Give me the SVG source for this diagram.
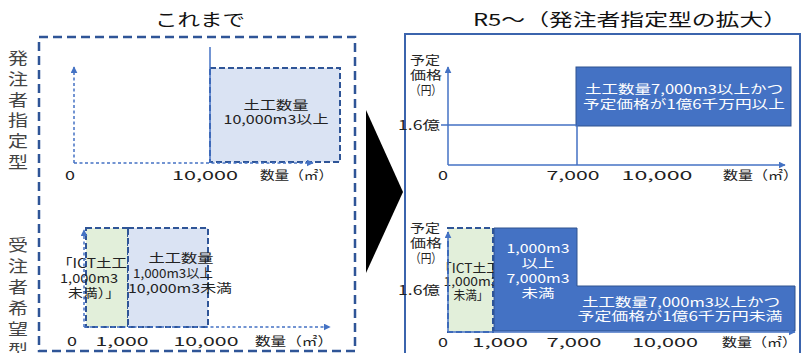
<svg xmlns="http://www.w3.org/2000/svg" width="802" height="353" viewBox="0 0 802 353">
<defs>
<marker id="ah" viewBox="0 0 10 10" refX="9" refY="5" markerWidth="7" markerHeight="7" markerUnits="userSpaceOnUse" orient="auto"><path d="M0,0 L10,5 L0,10 z" fill="#4472c4"/></marker>
</defs>
<style>
text { font-family: "Noto Sans CJK JP", "Noto Sans", sans-serif; }
.t { font-size: 12.5px; fill: #222; }
.w { font-size: 12.5px; fill: #fff; }
.m { text-anchor: middle; }
.e { text-anchor: end; }
.ttl { font-size: 17px; fill: #111; text-anchor: middle; }
.v { font-size: 16px; fill: #444; text-anchor: middle; }
.panelL { fill: none; stroke: #2f5597; stroke-width: 2.5; stroke-dasharray: 9 5; }
.panelR { fill: none; stroke: #3b64ad; stroke-width: 2; }
.box { stroke: #2f5597; stroke-width: 2; stroke-dasharray: 6 3; }
.lb { fill: #dae3f3; }
.lg { fill: #e2efda; }
.db { fill: #4472c4; stroke: #2f528f; stroke-width: 1; }
.ax { fill: none; stroke: #4472c4; stroke-width: 1.5; }
.axd { fill: none; stroke: #4472c4; stroke-width: 1.5; stroke-dasharray: 3 2.5; }
</style>
<rect width="802" height="353" fill="#fff"/>

<g id="title-left"><text class="ttl" x="200" y="26" textLength="90" lengthAdjust="spacingAndGlyphs">これまで</text></g>
<g id="title-right"><text class="ttl" x="630" y="26" textLength="314" lengthAdjust="spacingAndGlyphs">R5～（発注者指定型の拡大）</text></g>

<g id="label-hacchu">
<text class="v" x="18" y="64" textLength="20" lengthAdjust="spacingAndGlyphs">発</text>
<text class="v" x="18" y="85" textLength="20" lengthAdjust="spacingAndGlyphs">注</text>
<text class="v" x="18" y="106" textLength="20" lengthAdjust="spacingAndGlyphs">者</text>
<text class="v" x="18" y="126" textLength="20" lengthAdjust="spacingAndGlyphs">指</text>
<text class="v" x="18" y="147" textLength="20" lengthAdjust="spacingAndGlyphs">定</text>
<text class="v" x="18" y="168" textLength="20" lengthAdjust="spacingAndGlyphs">型</text>
</g>
<g id="label-juchu">
<text class="v" x="18" y="251" textLength="20" lengthAdjust="spacingAndGlyphs">受</text>
<text class="v" x="18" y="272" textLength="20" lengthAdjust="spacingAndGlyphs">注</text>
<text class="v" x="18" y="293" textLength="20" lengthAdjust="spacingAndGlyphs">者</text>
<text class="v" x="18" y="314" textLength="20" lengthAdjust="spacingAndGlyphs">希</text>
<text class="v" x="18" y="335" textLength="20" lengthAdjust="spacingAndGlyphs">望</text>
<text class="v" x="18" y="356" textLength="20" lengthAdjust="spacingAndGlyphs">型</text>
</g>

<g id="panel-left"><rect class="panelL" x="39" y="37" width="316" height="314"/></g>
<g id="panel-right"><rect class="panelR" x="405" y="34" width="395" height="330"/></g>

<g id="big-arrow"><polygon points="366,110 403,192 366,273" fill="#000"/></g>

<!-- upper-left chart -->
<g id="ul-box">
<rect class="lb box" x="210" y="68" width="130" height="94"/>
<text class="t m" x="276" y="110" textLength="65" lengthAdjust="spacingAndGlyphs">土工数量</text>
<text class="t m" x="276" y="124" textLength="105" lengthAdjust="spacingAndGlyphs">10,000m3以上</text>
</g>
<g id="ul-labels">
<text class="t m" x="70" y="180" textLength="10" lengthAdjust="spacingAndGlyphs">0</text>
<text class="t m" x="205" y="180" textLength="66" lengthAdjust="spacingAndGlyphs">10,000</text>
<text class="t" x="260" y="180" textLength="73" lengthAdjust="spacingAndGlyphs">数量（㎡）</text>
</g>

<!-- lower-left chart -->
<g id="ll-ict">
<rect class="lg box" x="86" y="228" width="42" height="99"/>
<text class="t m" x="92" y="268" textLength="70" lengthAdjust="spacingAndGlyphs">「ICT土工</text>
<text class="t m" x="89" y="283" textLength="58" lengthAdjust="spacingAndGlyphs">1,000m3</text>
<text class="t m" x="94" y="298" textLength="52" lengthAdjust="spacingAndGlyphs">未満）」</text>
</g>
<g id="ll-mid">
<rect class="lb box" x="128" y="228" width="80" height="99"/>
<text class="t m" x="181" y="263" textLength="65" lengthAdjust="spacingAndGlyphs">土工数量</text>
<text class="t m" x="173" y="278" textLength="80" lengthAdjust="spacingAndGlyphs">1,000m3以上</text>
<text class="t m" x="180" y="293" textLength="104" lengthAdjust="spacingAndGlyphs">10,000m3未満</text>
</g>
<g id="ll-labels">
<text class="t m" x="72" y="346" textLength="10" lengthAdjust="spacingAndGlyphs">0</text>
<text class="t m" x="122" y="346" textLength="53" lengthAdjust="spacingAndGlyphs">1,000</text>
<text class="t m" x="206" y="346" textLength="65" lengthAdjust="spacingAndGlyphs">10,000</text>
<text class="t" x="255" y="346" textLength="78" lengthAdjust="spacingAndGlyphs">数量（㎡）</text>
</g>

<!-- upper-right chart -->
<g id="ur-box">
<rect class="db" x="576" y="67" width="215" height="59"/>
<text class="w m" x="684" y="94" textLength="198" lengthAdjust="spacingAndGlyphs">土工数量7,000m3以上かつ</text>
<text class="w m" x="684" y="109" textLength="202" lengthAdjust="spacingAndGlyphs">予定価格が1億6千万円以上</text>
</g>
<g id="ur-labels">
<text class="t" x="410" y="65" textLength="30" lengthAdjust="spacingAndGlyphs">予定</text>
<text class="t" x="410" y="80" textLength="32" lengthAdjust="spacingAndGlyphs">価格</text>
<text class="t" x="410" y="95" textLength="32" lengthAdjust="spacingAndGlyphs">（円）</text>
<text class="t e" x="440" y="130" textLength="42" lengthAdjust="spacingAndGlyphs">1.6億</text>
<text class="t m" x="443" y="180" textLength="10" lengthAdjust="spacingAndGlyphs">0</text>
<text class="t m" x="573" y="180" textLength="53" lengthAdjust="spacingAndGlyphs">7,000</text>
<text class="t m" x="657" y="180" textLength="71" lengthAdjust="spacingAndGlyphs">10,000</text>
<text class="t" x="723" y="180" textLength="75" lengthAdjust="spacingAndGlyphs">数量（㎡）</text>
</g>

<!-- lower-right chart -->
<g id="lr-ict">
<rect class="lg box" x="448" y="228" width="45" height="104"/>
<text class="t m" x="469" y="273" textLength="62" lengthAdjust="spacingAndGlyphs">「ICT土工</text>
<text class="t m" x="471" y="286" textLength="55" lengthAdjust="spacingAndGlyphs">1,000m3</text>
<text class="t m" x="471" y="300" textLength="35" lengthAdjust="spacingAndGlyphs">未満」</text>
</g>
<g id="lr-mid">
<path class="db" d="M494,228 H577 V286 H795 V331 H494 Z"/>
<text class="w m" x="538" y="253" textLength="63" lengthAdjust="spacingAndGlyphs">1,000m3</text>
<text class="w m" x="538" y="268" textLength="33" lengthAdjust="spacingAndGlyphs">以上</text>
<text class="w m" x="538" y="283" textLength="63" lengthAdjust="spacingAndGlyphs">7,000m3</text>
<text class="w m" x="538" y="298" textLength="33" lengthAdjust="spacingAndGlyphs">未満</text>
</g>
<g id="lr-big">
<text class="w m" x="681" y="307" textLength="198" lengthAdjust="spacingAndGlyphs">土工数量7,000m3以上かつ</text>
<text class="w m" x="680" y="321" textLength="205" lengthAdjust="spacingAndGlyphs">予定価格が1億6千万円未満</text>
</g>
<g id="lr-labels">
<text class="t" x="410" y="233" textLength="30" lengthAdjust="spacingAndGlyphs">予定</text>
<text class="t" x="410" y="248" textLength="32" lengthAdjust="spacingAndGlyphs">価格</text>
<text class="t" x="410" y="263" textLength="32" lengthAdjust="spacingAndGlyphs">（円）</text>
<text class="t e" x="440" y="295" textLength="42" lengthAdjust="spacingAndGlyphs">1.6億</text>
<text class="t m" x="443" y="347" textLength="10" lengthAdjust="spacingAndGlyphs">0</text>
<text class="t m" x="500" y="347" textLength="56" lengthAdjust="spacingAndGlyphs">1,000</text>
<text class="t m" x="574" y="347" textLength="55" lengthAdjust="spacingAndGlyphs">7,000</text>
<text class="t m" x="665" y="347" textLength="66" lengthAdjust="spacingAndGlyphs">10,000</text>
<text class="t" x="722" y="347" textLength="75" lengthAdjust="spacingAndGlyphs">数量（㎡）</text>
</g>

<g id="connectors">
<!-- upper-left axes -->
<path class="axd" d="M74,163 V67" marker-end="url(#ah)"/>
<path class="axd" d="M74,163 H313" marker-end="url(#ah)"/>
<path class="ax" d="M210,47 V163"/>
<!-- lower-left axes -->
<path class="axd" d="M84,327 V230" marker-end="url(#ah)"/>
<path class="axd" d="M84,327 H330" marker-end="url(#ah)"/>
<!-- upper-right axes -->
<path class="ax" d="M448,165 V67" marker-end="url(#ah)"/>
<path class="ax" d="M448,165 H785" marker-end="url(#ah)"/>
<path class="ax" d="M441,125 H576 M577,125 V165"/>
<!-- lower-right axes -->
<path class="ax" d="M448,332 V232" marker-end="url(#ah)"/>
<path class="ax" d="M448,332 H795" marker-end="url(#ah)"/>
</g>
</svg>
